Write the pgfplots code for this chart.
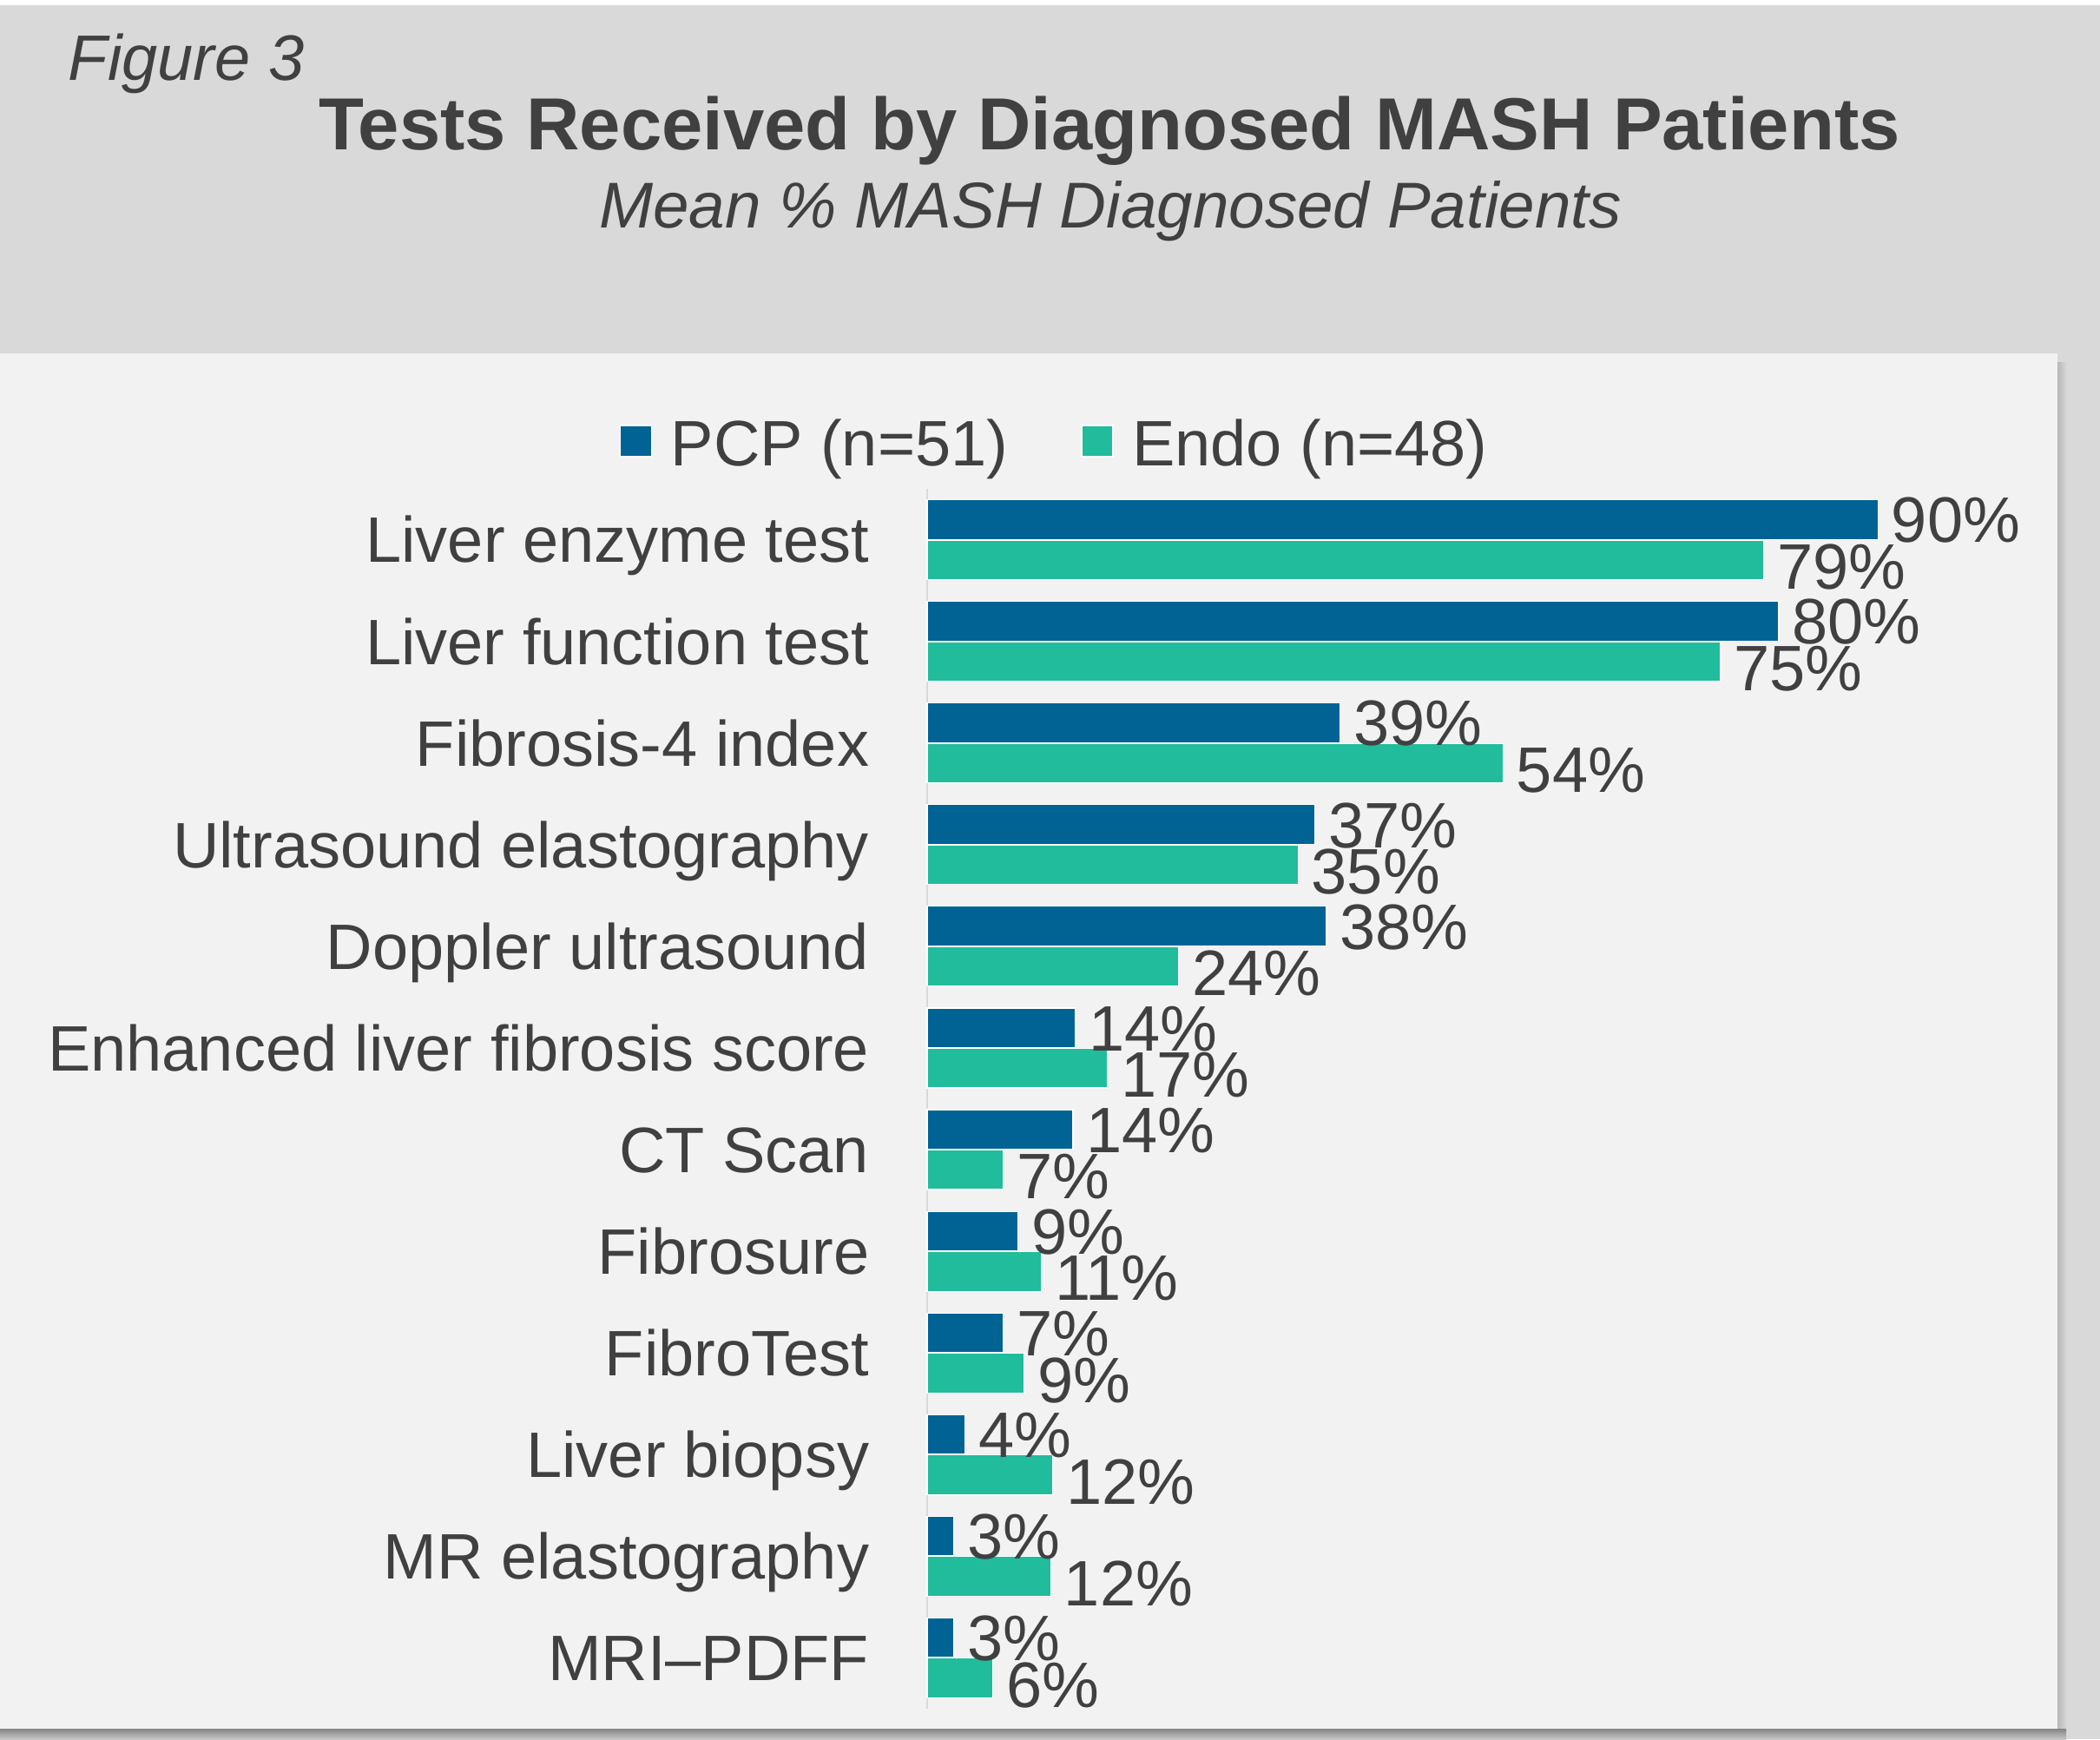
\documentclass[border=0pt]{standalone}
\usepackage{fontspec}
\setmainfont{Liberation Sans}
\usepackage{pgfplots}
\usepackage{pgfplotstable}
\pgfplotsset{compat=1.18}
\definecolor{pcp}{HTML}{006394}
\definecolor{endo}{HTML}{21BC9C}
\definecolor{txt}{HTML}{404040}
\definecolor{bggray}{HTML}{D9D9D9}
\definecolor{panel}{HTML}{F2F2F2}
\newcommand{\fs}{\fontsize{18.5}{22}\selectfont}

\pgfplotstableread{
i p pl e el
11 90 90 79.2 79
10 80.6 80 75.1 75
9 39.1 39 54.5 54
8 36.7 37 35.1 35
7 37.8 38 23.8 24
6 14.05 14 17.05 17
5 13.8 14 7.2 7
4 8.6 9 10.8 11
3 7.2 7 9.2 9
2 3.6 4 11.9 12
1 2.5 3 11.7 12
0 2.5 3 6.2 6
}\datatable

\begin{document}
\begin{tikzpicture}
\useasboundingbox (0,0) rectangle (604.75pt,-500.75pt);
\begin{scope}[x=0.25pt,y=-0.25pt]
\fill[white] (0,0) rectangle (2419,2003);
\fill[bggray] (0,6) rectangle (2419,2003);
\shade[left color=black!28, right color=bggray] (2370,417) rectangle (2381,1995);
\shade[top color=black!48, bottom color=black!22] (0,1991) rectangle (2380,2003);
\fill[panel] (0,407) rectangle (2370,1991);
\node[anchor=base west, inner sep=0pt, font=\fs\itshape, text=txt] at (78,92) {Figure 3};
\node[anchor=base, inner sep=0pt, font=\fontsize{21.25}{25}\selectfont\bfseries, text=txt] at (1278,172) {Tests Received by Diagnosed MASH Patients};
\node[anchor=base, inner sep=0pt, font=\fontsize{18.65}{22}\selectfont\itshape, text=txt] at (1279,262) {Mean \% MASH Diagnosed Patients};
\end{scope}
\begin{axis}[
  at={(267pt,-140.75pt)}, anchor=north west,
  scale only axis, width=304.25pt, height=351.25pt,
  xbar, xmin=0, xmax=100, ymin=-0.5, ymax=11.5,
  axis x line=none, axis y line*=left,
  y axis line style={draw=bggray, line width=0.6pt, -},
  xtick=\empty,
  ytick={0,...,11},
  yticklabels={MRI--PDFF, MR elastography, Liver biopsy, FibroTest, Fibrosure, CT Scan, Enhanced liver fibrosis score, Doppler ultrasound, Ultrasound elastography, Fibrosis-4 index, Liver function test, Liver enzyme test},
  major tick length=0pt,
  yticklabel style={font=\fs, text=txt, anchor=base east, inner sep=0pt, xshift=-16.5pt, yshift=-6.6pt},
  bar width=11.4pt,
  point meta=explicit,
  nodes near coords={\pgfmathprintnumber{\pgfplotspointmeta}\%},
  every node near coord/.append style={font=\fs, text=txt, anchor=base west, inner sep=0pt, xshift=3.75pt, yshift=-6.6pt},
  /pgf/number format/assume math mode=true,
  clip=false,
  legend columns=2,
  legend style={at={(0.123,1.036)}, anchor=center, draw=none, fill=none, font=\fs, text=txt,
    /tikz/every odd column/.append style={column sep=3.4pt},
    /tikz/every even column/.append style={column sep=19pt}},
  legend image code/.code={\fill[#1] (0pt,-3.4pt) rectangle (9pt,5.6pt);},
]
\addplot[fill=pcp, draw=white, line width=0.3pt, bar shift=5.8pt] table[x=p, y=i, meta=pl] \datatable;
\addlegendentry{PCP (n=51)}
\addplot[fill=endo, draw=white, line width=0.3pt, bar shift=-5.8pt,
  every node near coord/.append style={yshift=-1.8pt}] table[x=e, y=i, meta=el] \datatable;
\addlegendentry{Endo (n=48)}
\end{axis}
\end{tikzpicture}
\end{document}
